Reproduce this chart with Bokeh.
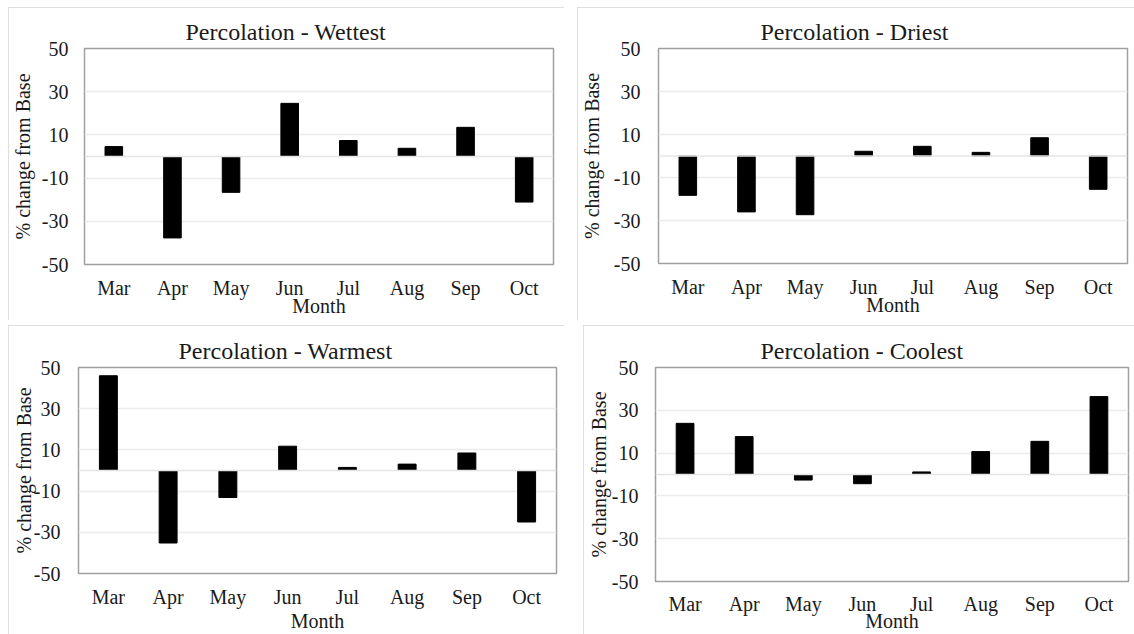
from bokeh.plotting import figure
from bokeh.layouts import row, column
from bokeh.models import (Range1d, FactorRange, FixedTicker, Span,
                          ColumnDataSource, NumeralTickFormatter)
from bokeh.embed import file_html
from bokeh.resources import INLINE

months = ["Mar", "Apr", "May", "Jun", "Jul", "Aug", "Sep", "Oct"]
wettest = [4.6, -37.7, -16.6, 24.6, 7.4, 3.8, 13.5, -21.1]
driest = [-18.3, -26.0, -27.3, 2.2, 4.5, 1.7, 8.5, -15.5]
warmest = [46.0, -35.2, -13.1, 11.8, 1.5, 3.1, 8.5, -25.0]
coolest = [23.9, 17.7, -2.6, -4.3, 1.2, 10.7, 15.5, 36.4]
titles = ["Percolation - Wettest", "Percolation - Driest",
          "Percolation - Warmest", "Percolation - Coolest"]
y_ticks = [-50, -30, -10, 10, 30, 50]
x_label = "Month"
y_label = "% change from Base"

FONT = "Liberation Serif"
TXT = "#1a1a1a"


def make(title, vals, w, h, bl, br, bt, bb, t_off, y_std, y_als, x_std, x_als):
    src = ColumnDataSource(dict(month=months, val=vals))
    p = figure(x_range=FactorRange(*months, range_padding=0),
               y_range=Range1d(-50, 50), width=w, height=h,
               output_backend="svg", toolbar_location=None,
               min_border_left=bl, min_border_right=br,
               min_border_top=bt, min_border_bottom=bb)
    p.frame_align = False
    p.vbar(x="month", top="val", bottom=0, width=0.3, source=src,
           fill_color="black", line_color="black")
    p.add_layout(Span(location=0, dimension="width",
                      line_color="#e4e4e4", line_width=1.5), "below")
    p.title.text = title
    p.title.align = "left"
    p.title.offset = t_off
    p.title.text_font = FONT
    p.title.text_font_size = "24px"
    p.title.text_font_style = "normal"
    p.title.text_color = TXT
    p.title.standoff = 8

    p.outline_line_color = "#a0a0a0"
    p.outline_line_width = 1.5
    p.background_fill_color = "white"
    p.border_fill_color = "white"

    p.yaxis.ticker = FixedTicker(ticks=y_ticks)
    p.yaxis.formatter = NumeralTickFormatter(format="0")
    p.ygrid.ticker = FixedTicker(ticks=y_ticks)
    p.ygrid.grid_line_color = "#ececec"
    p.ygrid.grid_line_width = 1.5
    p.xgrid.grid_line_color = None

    for ax in (p.xaxis[0], p.yaxis[0]):
        ax.axis_line_color = None
        ax.major_tick_line_color = None
        ax.minor_tick_line_color = None
        ax.major_tick_out = 0
        ax.major_tick_in = 0
        ax.major_label_text_font = FONT
        ax.major_label_text_font_size = "20px"
        ax.major_label_text_color = TXT
        ax.axis_label_text_font = FONT
        ax.axis_label_text_font_size = "20px"
        ax.axis_label_text_font_style = "normal"
        ax.axis_label_text_color = TXT
    p.yaxis.axis_label = y_label
    p.yaxis.major_label_standoff = y_std
    p.yaxis.axis_label_standoff = y_als
    p.xaxis.axis_label = x_label
    p.xaxis.major_label_standoff = x_std
    p.xaxis.axis_label_standoff = x_als
    p.styles = {"outline": "1px solid #d4d4d4", "outline-offset": "-1px"}
    return p


p1 = make(titles[0], wettest, 556, 313, 75, 11, 41, 56, 101, 16, 5, 12, -7)
p2 = make(titles[1], driest, 557, 313, 81, 7, 41, 57, 102, 18, 8, 12, -7)
p3 = make(titles[2], warmest, 556, 309, 70, 8, 42, 61, 100, 18, -4, 12, -1)
p4 = make(titles[3], coolest, 551, 309, 72, 6, 42, 52, 105, 17, -1, 11, -8)

layout = column(row(p1, p2, spacing=13), row(p3, p4, spacing=19),
                spacing=5, margin=(7, 0, 0, 8))

open("out.html", "w").write(file_html(layout, INLINE))
